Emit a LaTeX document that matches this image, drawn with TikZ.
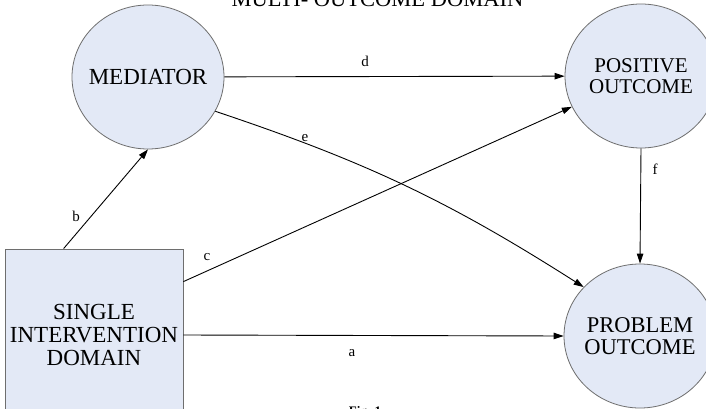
\documentclass[tikz,border=0pt]{standalone}
\usepackage{fontspec}
\setmainfont{Liberation Serif}
\usetikzlibrary{shapes.geometric,arrows.meta,calc}
\definecolor{boxfill}{RGB}{227,233,246}
\definecolor{boxline}{RGB}{110,110,110}
\tikzset{
  areabox/.style={draw=boxline, line width=0.8pt, fill=boxfill, align=center,
    font=\fontsize{23}{23}\selectfont, inner sep=0pt},
  outcome/.style={areabox, ellipse, inner xsep=-30pt, inner ysep=0pt,
    minimum width=152pt, minimum height=144pt},
  link/.style={line width=0.9pt, -{Triangle[length=10pt,width=6.5pt]}},
  tag/.style={font=\fontsize{15}{15}\selectfont, inner sep=0pt}
}
\begin{document}
\begin{tikzpicture}[x=1pt,y=-1pt]
\useasboundingbox (0,0) rectangle (706,409);
\fill[white] (0,0) rectangle (706,409);

% headings (partly outside the page)
\node[anchor=base, font=\fontsize{22.5}{22.5}\selectfont, inner sep=0pt] (title) at (377.5,7) {MULTI- OUTCOME DOMAIN};
\node[anchor=north, font=\fontsize{13}{13}\selectfont\bfseries, inner sep=0pt] (fig) at (365,406) {Fig. 1};

% nodes
\node[outcome] (med)  at (148,77)  {MEDIATOR};
\node[outcome, font=\fontsize{21}{21}\selectfont] (pos) at (641,76) {POSITIVE\\OUTCOME};
\node[outcome, font=\fontsize{22.5}{21.5}\selectfont] (prob) at (640,336) {PROBLEM\\OUTCOME};
\node[areabox, minimum width=178pt, minimum height=172pt, font=\fontsize{23}{23}\selectfont] (sid) at (94,335) {SINGLE\\INTERVENTION\\DOMAIN};

% connectors
\coordinate (bstart) at ($(sid.north west)+(59,0)$);
\coordinate (cstart) at ($(sid.north east)+(0,33)$);
\draw[link] (bstart) -- (med.south);
\draw[link] (cstart) -- (pos.204);
\draw[link] (med) -- (pos);
\draw[link] (med.333) to[bend left=7] (prob.139);
\draw[link] (pos.south) -- (prob.north);
\draw[link] (sid.east) -- (prob.west);

% path labels
\node[tag] (la) at (352,353) {a};
\node[tag] (lb) at (76,216) {b};
\node[tag] (lc) at (207,257) {c};
\node[tag] (ld) at (365,61) {d};
\node[tag] (le) at (305,138) {e};
\node[tag] (lf) at (655,169) {f};
\end{tikzpicture}
\end{document}
